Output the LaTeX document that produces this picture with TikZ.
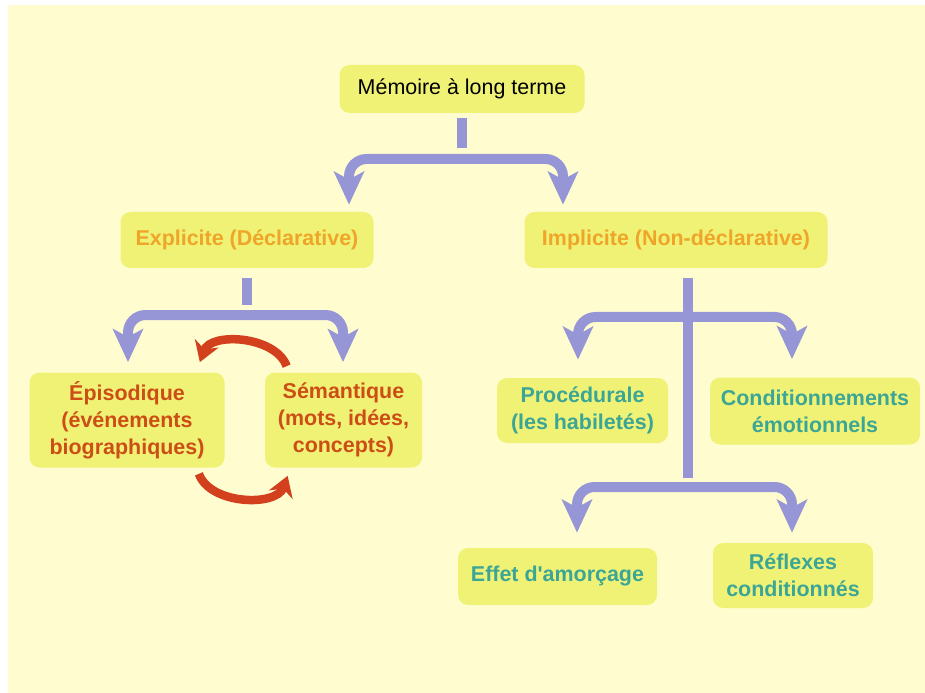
\documentclass[tikz,border=0pt]{standalone}
\usepackage{fontspec}
\setmainfont{Liberation Sans}
\usetikzlibrary{arrows.meta}
\definecolor{paper}{RGB}{255,253,208}
\definecolor{boxfill}{RGB}{240,242,118}
\definecolor{lilac}{RGB}{150,150,215}
\definecolor{orangetext}{RGB}{238,165,40}
\definecolor{redtext}{RGB}{204,78,22}
\definecolor{tealtext}{RGB}{60,166,150}
\definecolor{cyclered}{RGB}{210,64,30}
\tikzset{
  box/.style={fill=boxfill, rounded corners=0.2cm, align=center, inner sep=0pt,
    font=\bfseries\fontsize{12.2}{15.4}\selectfont},
  stem/.style={draw=lilac, line width=0.2cm},
  branch/.style={draw=lilac, line width=0.2cm, rounded corners=0.35cm,
    {Stealth[length=0.66cm,width=0.6cm,inset=0.16cm]}-{Stealth[length=0.66cm,width=0.6cm,inset=0.16cm]}},
  cycle/.style={draw=cyclered, line width=0.17cm, -{Stealth[length=0.4cm,width=0.5cm]}}
}
\begin{document}
\begin{tikzpicture}
        \useasboundingbox (0,0) rectangle (18.5,-13.86);
        \fill[paper] (0.16,-0.1) rectangle (18.5,-13.86);
        % boxes
        \node[box, font=\fontsize{12.2}{15.4}\selectfont, minimum width=4.9cm, minimum height=0.96cm] (root) at (9.24,-1.78) {Mémoire à long terme};
        \node[box, text=orangetext, minimum width=5.06cm, minimum height=1.12cm] (expl) at (4.94,-4.8) {Explicite (Déclarative)};
        \node[box, text=orangetext, minimum width=6.06cm, minimum height=1.12cm] (impl) at (13.52,-4.8) {Implicite (Non-déclarative)};
        \node[box, text=redtext, minimum width=3.9cm, minimum height=1.9cm] (epis) at (2.54,-8.4) {Épisodique\\(événements\\biographiques)};
        \node[box, text=redtext, minimum width=3.14cm, minimum height=1.9cm] (sema) at (6.87,-8.4) {Sémantique\\(mots, idées,\\concepts)};
        \node[box, text=tealtext, minimum width=3.42cm, minimum height=1.3cm] (proc) at (11.65,-8.21) {Procédurale\\(les habiletés)};
        \node[box, text=tealtext, minimum width=4.2cm, minimum height=1.34cm] (cond) at (16.3,-8.22) {Conditionnements\\émotionnels};
        \node[box, text=tealtext, minimum width=3.98cm, minimum height=1.14cm] (effet) at (11.15,-11.53) {Effet d\textquotesingle amorçage};
        \node[box, text=tealtext, minimum width=3.2cm, minimum height=1.3cm] (refl) at (15.86,-11.51) {Réflexes\\conditionnés};
        % first level
        \coordinate (j1l) at (6.98,-3.18);
        \coordinate (j1r) at (11.26,-3.18);
        \draw[stem] ([yshift=-0.1cm]root.south) -- ++(0,-0.6);
        \draw[branch, shorten <=0.14cm, shorten >=0.14cm] (j1l |- expl.north) -- (j1l) -- (j1r) -- (j1r |- impl.north);
        % explicite
        \coordinate (j2l) at (2.56,-6.3);
        \coordinate (j2r) at (6.86,-6.3);
        \draw[stem] ([yshift=-0.2cm]expl.south) -- ++(0,-0.54);
        \draw[branch, shorten <=0.2cm, shorten >=0.2cm] (j2l |- epis.north) -- (j2l) -- (j2r) -- (j2r |- sema.north);
        \draw[cycle] ([shift={(0.44,0.12)}]sema.north west) to[out=110, in=70, looseness=0.95] ([shift={(-0.5,0.2)}]epis.north east);
        \draw[cycle] ([shift={(-0.52,-0.12)}]epis.south east) to[out=-70, in=-110, looseness=0.95] ([shift={(0.46,-0.16)}]sema.south west);
        % implicite
        \coordinate (spinetop) at (13.76,-5.56);
        \coordinate (spinebot) at (13.76,-9.56);
        \coordinate (j3l) at (11.56,-6.34);
        \coordinate (j3r) at (15.84,-6.34);
        \coordinate (j4l) at (11.54,-9.74);
        \coordinate (j4r) at (15.84,-9.74);
        \draw[stem] (spinetop) -- (spinebot);
        \draw[branch, shorten <=0.36cm, shorten >=0.36cm] (j3l |- proc.north) -- (j3l) -- (j3r) -- (j3r |- cond.north);
        \draw[branch, shorten <=0.3cm, shorten >=0.2cm] (j4l |- effet.north) -- (j4l) -- (j4r) -- (j4r |- refl.north);
        \end{tikzpicture}
\end{document}
